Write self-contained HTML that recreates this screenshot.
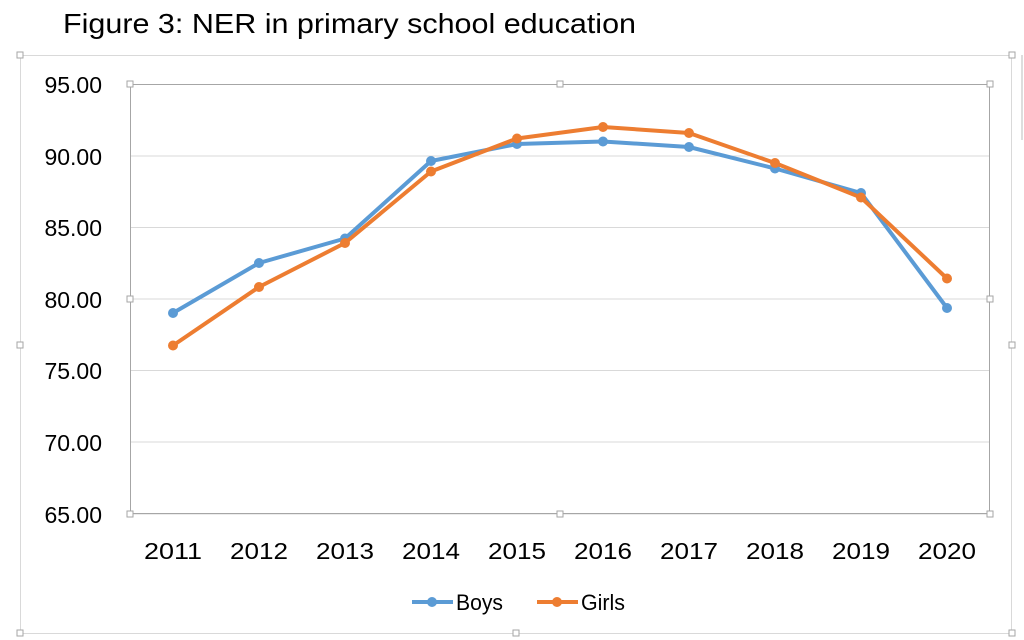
<!DOCTYPE html>
<html><head><meta charset="utf-8"><style>
html,body{margin:0;padding:0;background:#fff;width:1024px;height:640px;overflow:hidden}
</style></head><body>
<svg width="1024" height="640" viewBox="0 0 1024 640" xmlns="http://www.w3.org/2000/svg" font-family="Liberation Sans, sans-serif">
<text x="63" y="33" font-size="28" fill="#000" textLength="573" lengthAdjust="spacingAndGlyphs">Figure 3: NER in primary school education</text>
<rect x="20.5" y="55.5" width="991" height="578" fill="none" stroke="#d9d9d9" stroke-width="1"/>
<line x1="1022" y1="55" x2="1022" y2="140" stroke="#bbb"/>
<g stroke="#d9d9d9" stroke-width="1">
<line x1="130" y1="156" x2="990" y2="156"/>
<line x1="130" y1="227.5" x2="990" y2="227.5"/>
<line x1="130" y1="299" x2="990" y2="299"/>
<line x1="130" y1="370.5" x2="990" y2="370.5"/>
<line x1="130" y1="442" x2="990" y2="442"/>
<line x1="130" y1="514" x2="990" y2="514"/>
</g>
<rect x="130.5" y="84.5" width="859" height="429" fill="none" stroke="#a6a6a6" stroke-width="1"/>
<g fill="#fff" stroke="#a6a6a6" stroke-width="1">
<rect x="127" y="81" width="6" height="6"/><rect x="557" y="81" width="6" height="6"/><rect x="987" y="81" width="6" height="6"/>
<rect x="127" y="296" width="6" height="6"/><rect x="987" y="296" width="6" height="6"/>
<rect x="127" y="511" width="6" height="6"/><rect x="557" y="511" width="6" height="6"/><rect x="987" y="511" width="6" height="6"/>
<rect x="17" y="52" width="6" height="6"/><rect x="1009" y="52" width="6" height="6"/>
<rect x="17" y="342" width="6" height="6"/><rect x="1009" y="342" width="6" height="6"/>
<rect x="17" y="630" width="6" height="6"/><rect x="513" y="630" width="6" height="6"/><rect x="1009" y="630" width="6" height="6"/>
</g>
<g font-size="23" fill="#000" text-anchor="end">
<text x="102" y="93">95.00</text>
<text x="102" y="165">90.00</text>
<text x="102" y="236">85.00</text>
<text x="102" y="308">80.00</text>
<text x="102" y="379">75.00</text>
<text x="102" y="451">70.00</text>
<text x="102" y="523">65.00</text>
</g>
<g font-size="23" fill="#000" text-anchor="middle">
<text x="173" y="559" textLength="58" lengthAdjust="spacingAndGlyphs">2011</text><text x="259" y="559" textLength="58" lengthAdjust="spacingAndGlyphs">2012</text><text x="345" y="559" textLength="58" lengthAdjust="spacingAndGlyphs">2013</text><text x="431" y="559" textLength="58" lengthAdjust="spacingAndGlyphs">2014</text><text x="517" y="559" textLength="58" lengthAdjust="spacingAndGlyphs">2015</text><text x="603" y="559" textLength="58" lengthAdjust="spacingAndGlyphs">2016</text><text x="689" y="559" textLength="58" lengthAdjust="spacingAndGlyphs">2017</text><text x="775" y="559" textLength="58" lengthAdjust="spacingAndGlyphs">2018</text><text x="861" y="559" textLength="58" lengthAdjust="spacingAndGlyphs">2019</text><text x="947" y="559" textLength="58" lengthAdjust="spacingAndGlyphs">2020</text>
</g>
<polyline fill="none" stroke="#5b9bd5" stroke-width="4" stroke-linejoin="round" points="173,313 259,263 345,238.5 431,161 517,144 603,141.5 689,147 775,168.5 861,193 947,308"/>
<g fill="#5b9bd5"><circle cx="173" cy="313" r="5"/><circle cx="259" cy="263" r="5"/><circle cx="345" cy="238.5" r="5"/><circle cx="431" cy="161" r="5"/><circle cx="517" cy="144" r="5"/><circle cx="603" cy="141.5" r="5"/><circle cx="689" cy="147" r="5"/><circle cx="775" cy="168.5" r="5"/><circle cx="861" cy="193" r="5"/><circle cx="947" cy="308" r="5"/></g>
<polyline fill="none" stroke="#ed7d31" stroke-width="4" stroke-linejoin="round" points="173,345.5 259,287 345,243 431,171.5 517,138.5 603,127 689,133 775,163 861,197.5 947,278.5"/>
<g fill="#ed7d31"><circle cx="173" cy="345.5" r="5"/><circle cx="259" cy="287" r="5"/><circle cx="345" cy="243" r="5"/><circle cx="431" cy="171.5" r="5"/><circle cx="517" cy="138.5" r="5"/><circle cx="603" cy="127" r="5"/><circle cx="689" cy="133" r="5"/><circle cx="775" cy="163" r="5"/><circle cx="861" cy="197.5" r="5"/><circle cx="947" cy="278.5" r="5"/></g>
<line x1="412" y1="602" x2="453" y2="602" stroke="#5b9bd5" stroke-width="4"/><circle cx="432" cy="602" r="5" fill="#5b9bd5"/>
<text x="456" y="610" font-size="22" textLength="47" lengthAdjust="spacingAndGlyphs">Boys</text>
<line x1="537" y1="602" x2="578" y2="602" stroke="#ed7d31" stroke-width="4"/><circle cx="557" cy="602" r="5" fill="#ed7d31"/>
<text x="581" y="610" font-size="22" textLength="44" lengthAdjust="spacingAndGlyphs">Girls</text>
</svg>
</body></html>
